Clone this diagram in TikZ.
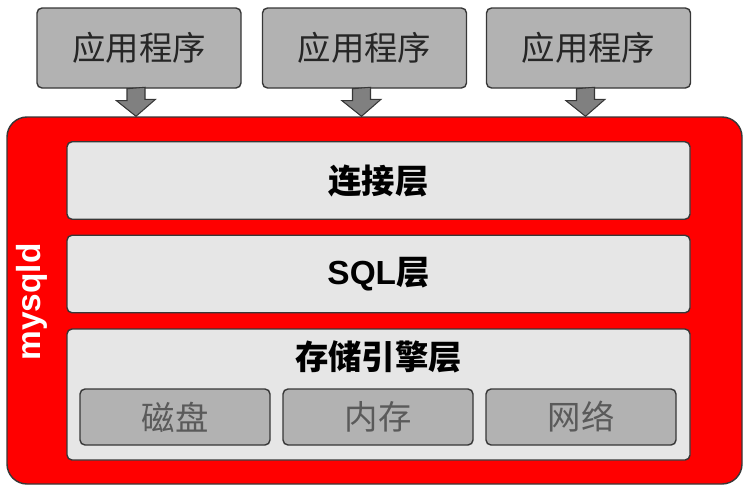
\documentclass[tikz,border=0pt]{standalone}
\usepackage{fontspec}
\setmainfont{Liberation Sans}
\newfontfamily\cjk{Noto Sans CJK SC}
\usepackage{tikz}
\usetikzlibrary{calc}
\definecolor{AppGray}{RGB}{178,178,178}
\definecolor{LayerGray}{RGB}{230,230,230}
\definecolor{ArrowGray}{RGB}{128,128,128}
\definecolor{EdgeGray}{RGB}{55,55,55}
\definecolor{PartText}{RGB}{90,90,90}

\begin{document}
\begin{tikzpicture}[
      font=\fontsize{19}{22}\selectfont\cjk,
      app/.style={draw=EdgeGray,line width=0.8pt,rounded corners=0.1cm,fill=AppGray,minimum width=4.08cm,minimum height=1.6cm,text=black!85},
      layer/.style={draw=EdgeGray,line width=0.8pt,rounded corners=0.1cm,fill=LayerGray,minimum width=12.46cm,minimum height=1.55cm,font=\fontsize{19}{22}\selectfont\cjk\bfseries},
      part/.style={draw=EdgeGray,line width=0.8pt,rounded corners=0.1cm,fill=AppGray,minimum width=3.8cm,minimum height=1.12cm,text=PartText},
      blk/.style={draw=EdgeGray,line width=0.6pt,fill=ArrowGray}
    ]
      \useasboundingbox (0,0) rectangle (14.98,-9.84);

      \node[app] (app1) at (2.78,-0.96) {应用程序};
      \node[app] (app2) at (7.29,-0.96) {应用程序};
      \node[app] (app3) at (11.77,-0.96) {应用程序};

      \node[draw=EdgeGray,line width=0.8pt,fill=red,rounded corners=0.4cm,minimum width=14.7cm,minimum height=7.34cm]
        (mysqld) at (7.49,-6.01) {};
      \node[rotate=90,text=white,font=\fontsize{19}{22}\selectfont\bfseries] (name) at (0.64,-6.04) {mysqld};

      \node[layer] (conn) at (7.57,-3.61) {连接层};
      \node[layer,font=\fontsize{19}{22}\selectfont\bfseries] (sql) at (7.57,-5.48) {SQL{\cjk 层}};
      \node[layer,minimum height=2.62cm] (engine) at (7.57,-7.89) {};
      \node[font=\fontsize{19}{22}\selectfont\cjk\bfseries] (enginelabel) at (7.57,-7.14) {存储引擎层};

      \node[part] (disk) at (3.5,-8.34) {磁盘};
      \node[part] (mem) at (7.56,-8.34) {内存};
      \node[part] (net) at (11.62,-8.34) {网络};

      % block arrows into mysqld
      \foreach \i in {1,2,3}
        \draw[blk] ($(app\i.south)+(-0.24,0)$) -- ++(0,-0.24) -- ++(-0.21,0)
          -- ($(app\i.south |- mysqld.north)+(-0.06,0)$) -- ++(0.39,0.34) -- ++(-0.21,0) -- ++(0,0.24) -- cycle;
    \end{tikzpicture}
\end{document}
